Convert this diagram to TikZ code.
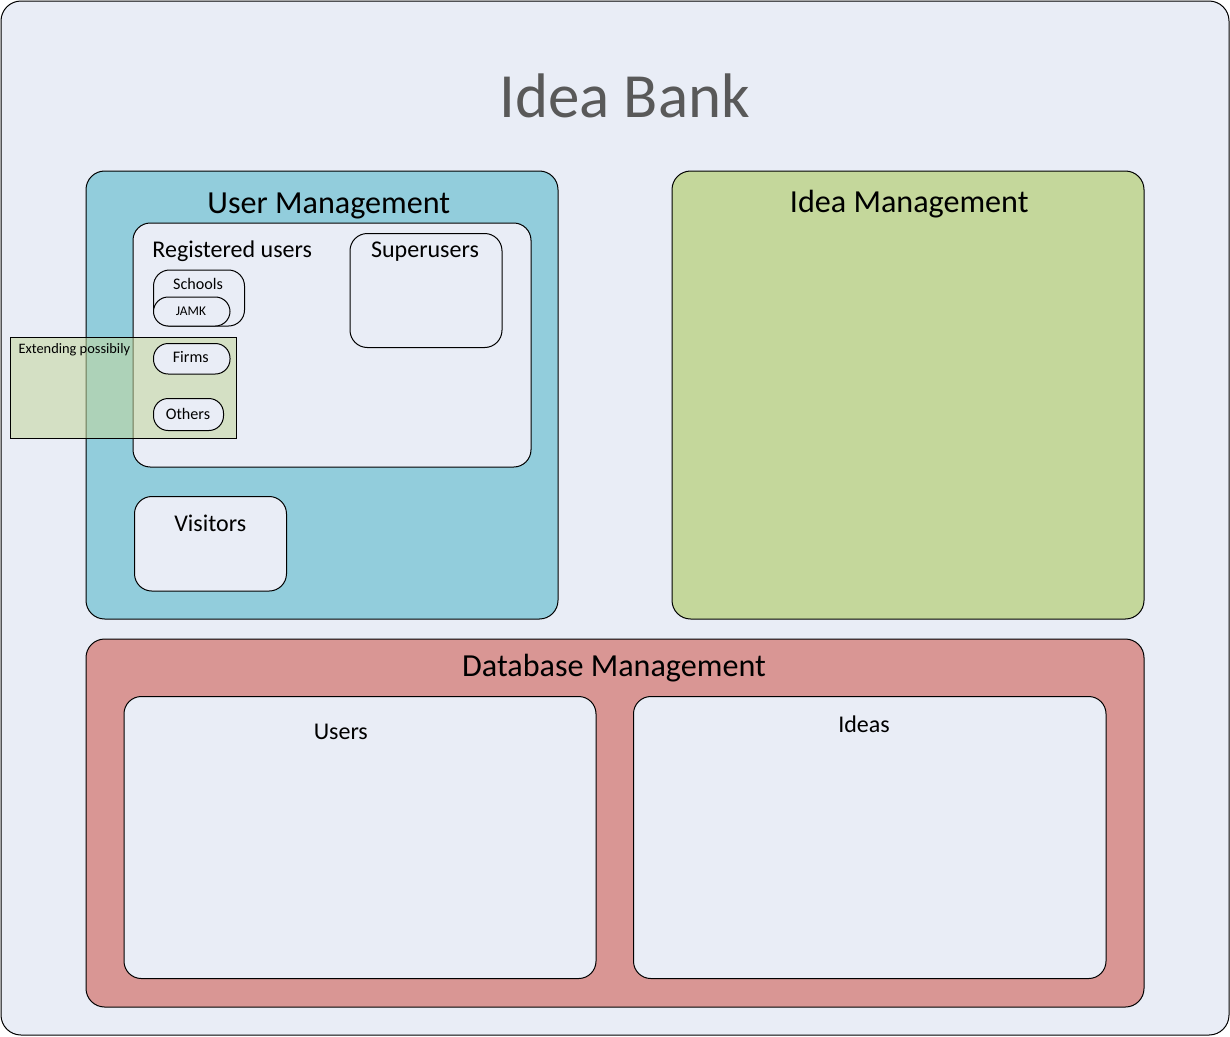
\documentclass[tikz,border=0pt]{standalone}
\usepackage{fontspec}
\setmainfont{Carlito}
\usetikzlibrary{fit}
\definecolor{paper}{HTML}{E9EDF6}
\definecolor{usr}{HTML}{92CDDC}
\definecolor{idea}{HTML}{C4D79B}
\definecolor{dbase}{HTML}{D99694}
\definecolor{banktext}{HTML}{595959}

\begin{document}
\begin{tikzpicture}[x=0.75pt,y=-0.75pt,
                    panel/.style={draw=black,line width=0.75pt,
                      rounded corners=14pt,inner sep=0pt},
                    sub/.style={panel,fill=paper,rounded corners=13pt},
                    pill/.style={panel,fill=paper,rounded corners=11pt},
                    head/.style={anchor=base,inner sep=0pt,
                      font=\fontsize{24.1}{29}\selectfont},
                    subhead/.style={anchor=base,inner sep=0pt,
                      font=\fontsize{18}{22}\selectfont},
                    tag/.style={anchor=base,inner sep=0pt,
                      font=\fontsize{12.1}{14}\selectfont}]
  \useasboundingbox (0,0) rectangle (1230,1036);

  % outer frame and title
  \node[panel,fill=paper,rounded corners=15pt,fit={(1,1) (1229,1035)}] (bank) {};
  \node[anchor=base,inner sep=0pt,text=banktext,
        font=\fontsize{47.2}{57}\selectfont] (banktitle) at (624.5,117.7) {Idea Bank};

  % the three big panels
  \node[panel,fill=usr,fit={(86,171) (558,619)}] (usermgmt) {};
  \node[head] (usertitle) at (328.8,213) {User Management};
  \node[panel,fill=idea,fit={(672,171) (1144,619)}] (ideamgmt) {};
  \node[head] (ideatitle) at (909.2,212.5) {Idea Management};
  \node[panel,fill=dbase,fit={(86,639) (1144,1007)}] (dbmgmt) {};
  \node[head] (dbtitle) at (614,676.7) {Database Management};

  % user management
  \node[sub,fit={(133,223) (531,467)}] (regusers) {};
  \node[subhead] (regtitle) at (232.2,257) {Registered users};
  \node[sub,fit={(350,233.5) (502,347.5)}] (superusers) {};
  \node[subhead] (supertitle) at (425,257) {Superusers};
  \node[pill,rounded corners=12pt,fit={(153.5,270) (244.5,326)}] (schools) {};
  \node[tag] (schoolstitle) at (198,289) {Schools};
  \node[pill,fit={(153.5,297) (230,326)}] (jamk) {};
  \node[tag,font=\fontsize{10}{12}\selectfont] (jamktitle) at (191,315) {JAMK};
  \node[draw=black,line width=0.75pt,fill=idea,fill opacity=0.55,inner sep=0pt,
        fit={(10.5,337) (236.5,438.5)}] (extend) {};
  \node[anchor=base west,inner sep=0pt,font=\fontsize{10.8}{13}\selectfont]
    (extendtitle) at (18.3,353.3) {Extending possibily};
  \node[pill,fit={(153.5,343.5) (230,374)}] (firms) {};
  \node[tag] (firmstitle) at (190.8,362.7) {Firms};
  \node[pill,fit={(153.5,398.5) (223.5,430.5)}] (others) {};
  \node[tag] (otherstitle) at (188,419) {Others};
  \node[sub,fit={(134.5,496.5) (286.5,591)}] (visitors) {};
  \node[subhead] (visitorstitle) at (210.3,531) {Visitors};

  % database management
  \node[sub,fit={(124,696.5) (596,978.5)}] (dbusers) {};
  \node[subhead] (dbuserstitle) at (340.8,739.3) {Users};
  \node[sub,fit={(633.5,696.5) (1106,978.5)}] (dbideas) {};
  \node[subhead] (dbideastitle) at (864,732.3) {Ideas};
\end{tikzpicture}
\end{document}
